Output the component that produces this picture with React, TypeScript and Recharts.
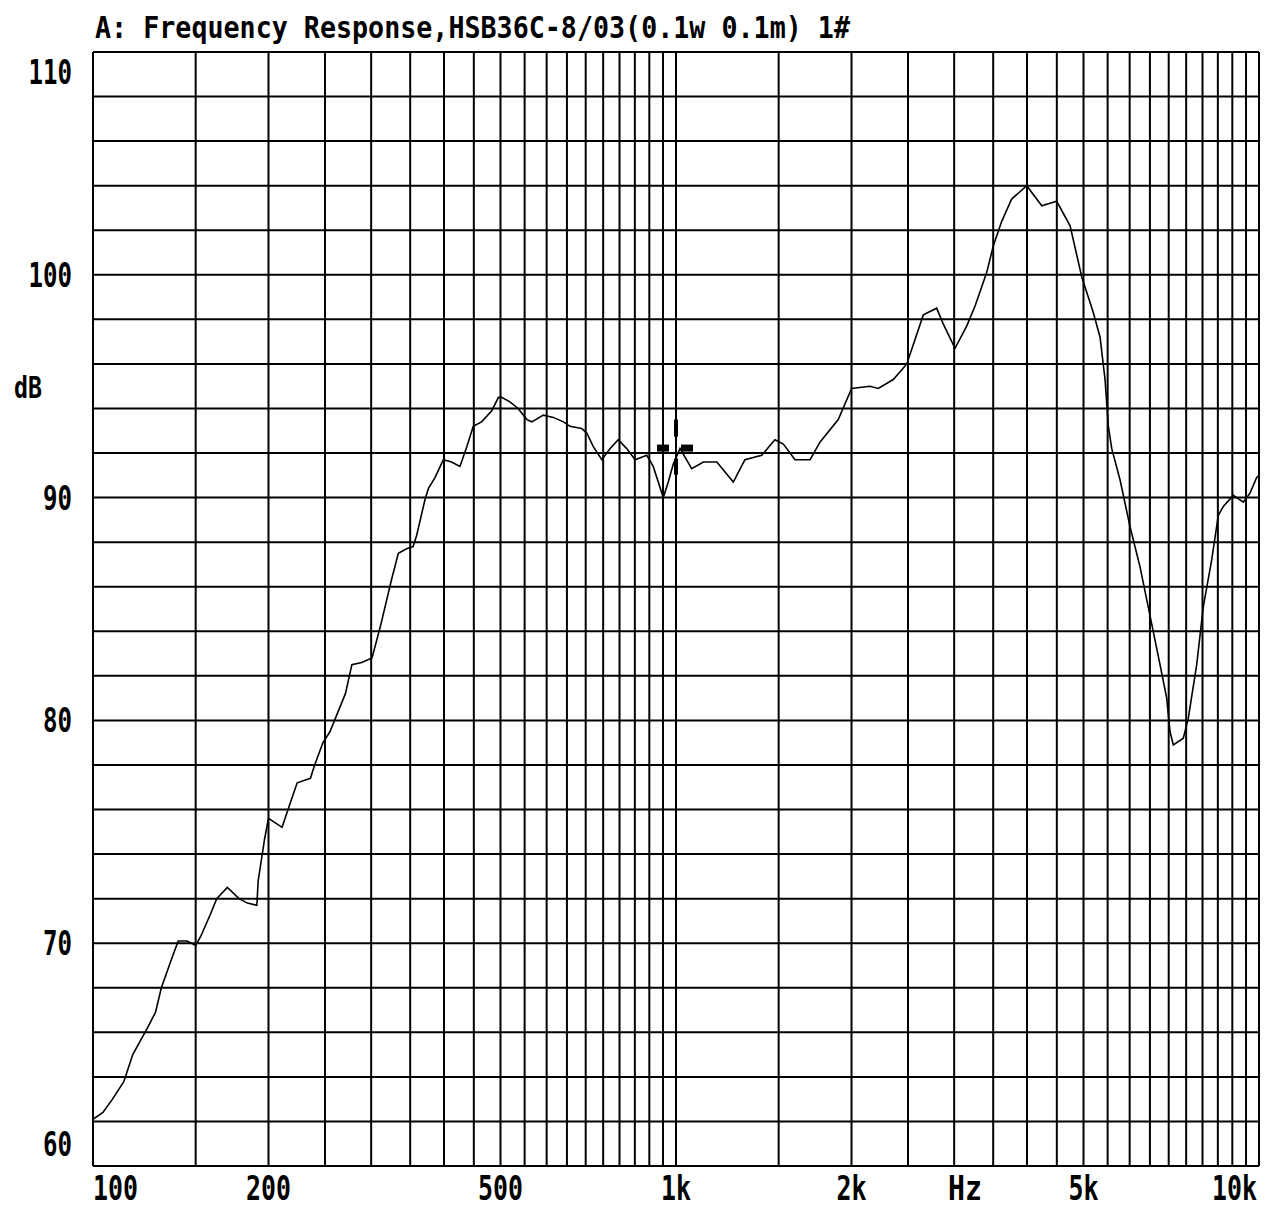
import React from 'react';
import { LineChart, Line, XAxis, YAxis, CartesianGrid, ReferenceDot } from 'recharts';

const freqHz = [
  100, 104, 108, 113, 117, 124, 128, 131, 136, 140, 145, 150, 153, 159, 163, 170, 178, 184, 191, 192,
  197, 200, 211, 218, 224, 236, 240, 248, 255, 271, 278, 289, 301, 311, 325, 334, 345, 354, 359, 371,
  376, 386, 399, 412, 426, 438, 449, 464, 483, 496, 502, 519, 536, 555, 566, 592, 616, 641, 658, 689,
  703, 721, 746, 771, 796, 823, 851, 891, 914, 951, 970, 989, 1016, 1064, 1114, 1175, 1254, 1313, 1403, 1478,
  1528, 1600, 1698, 1767, 1898, 2001, 2151, 2223, 2359, 2488, 2656, 2800, 2873, 3010, 3152, 3258, 3411, 3502, 3620, 3765,
  3996, 4240, 4498, 4742, 4966, 5199, 5338, 5444, 5516, 5590, 5776, 6008, 6249, 6502, 6764, 6945, 7037, 7129, 7416, 7564,
  7819, 8025, 8296, 8515, 8685, 9035, 9399, 9651, 9909, 10000,
];

const splDb = [
  62.1, 62.4, 63.0, 63.8, 65.0, 66.2, 66.9, 68.0, 69.2, 70.1, 70.1, 69.9, 70.3, 71.3, 72.0, 72.5, 72.0, 71.8, 71.7, 72.8,
  74.7, 75.6, 75.2, 76.3, 77.2, 77.4, 78.0, 79.0, 79.5, 81.2, 82.5, 82.6, 82.8, 84.2, 86.3, 87.5, 87.7, 87.8, 88.3, 89.9,
  90.4, 90.9, 91.7, 91.6, 91.4, 92.3, 93.2, 93.4, 93.9, 94.5, 94.5, 94.3, 94.0, 93.5, 93.4, 93.7, 93.6, 93.4, 93.2, 93.1,
  92.9, 92.3, 91.7, 92.2, 92.6, 92.2, 91.7, 91.9, 91.4, 90.0, 90.7, 91.5, 92.2, 91.3, 91.6, 91.6, 90.7, 91.7, 91.9, 92.6,
  92.4, 91.7, 91.7, 92.5, 93.5, 94.9, 95.0, 94.9, 95.3, 96.0, 98.2, 98.5, 97.8, 96.7, 97.7, 98.6, 100.1, 101.3, 102.4, 103.4,
  104.0, 103.1, 103.3, 102.2, 99.9, 98.3, 97.2, 95.3, 93.2, 92.2, 90.8, 88.7, 86.9, 84.7, 82.5, 81.0, 79.5, 78.9, 79.2, 80.1,
  82.5, 85.1, 87.2, 89.2, 89.6, 90.1, 89.8, 90.2, 90.9, 91.0,
];

const freqGridTicks = [
  100, 150, 200, 250, 300, 350, 400, 450, 500, 550, 600, 650, 700, 750, 800, 850, 900, 950, 1000,
  1500, 2000, 2500, 3000, 3500, 4000, 4500, 5000, 5500, 6000, 6500, 7000, 7500, 8000, 8500, 9000, 9500, 10000,
];
const dbGridTicks = [
  60, 62, 64, 66, 68, 70, 72, 74, 76, 78, 80, 82, 84, 86, 88, 90, 92, 94, 96, 98, 100, 102, 104, 106, 108, 110,
];
const freqLabelValues = [100, 200, 500, 1000, 2000, 5000, 10000];
const freqLabelTexts = ['100', '200', '500', '1k', '2k', '5k', '10k'];
const dbLabelValues = [60, 70, 80, 90, 100, 110];
const cursorFreq = [1000];
const cursorDb = [92.2];

const titleText = 'A: Frequency Response,HSB36C-8/03(0.1w 0.1m) 1#';
const yUnit = 'dB';
const xUnit = 'Hz';

const FONT = '"DejaVu Sans Mono", "Liberation Mono", monospace';

const data = freqHz.map((f, i) => ({ f, db: splDb[i] }));

function XTick(props: any) {
  const { x, y, payload } = props;
  const idx = freqLabelValues.indexOf(payload.value);
  if (idx < 0) return <g />;
  const txt = freqLabelTexts[idx];
  const last = idx === freqLabelValues.length - 1;
  const anchor = idx === 0 ? 'start' : last ? 'end' : 'middle';
  return (
    <text
      x={last ? x - 2 : x}
      y={y + 34}
      textAnchor={anchor}
      fontFamily={FONT}
      fontWeight="bold"
      fontSize={33}
      fill="#000"
      textLength={txt.length * 15}
      lengthAdjust="spacingAndGlyphs"
    >
      {txt}
    </text>
  );
}

function YTick(props: any) {
  const { x, y, payload } = props;
  const v = payload.value;
  if (dbLabelValues.indexOf(v) < 0) return <g />;
  const txt = String(v);
  const shift = v === 110 ? 20 : v === 60 ? -22 : 0;
  return (
    <text
      x={x - 21}
      y={y + 12 + shift}
      textAnchor="end"
      fontFamily={FONT}
      fontWeight="bold"
      fontSize={33}
      fill="#000"
      textLength={txt.length * 14.5}
      lengthAdjust="spacingAndGlyphs"
    >
      {txt}
    </text>
  );
}

function CursorShape(props: any) {
  const { cx, cy } = props;
  if (cx == null || cy == null) return <g />;
  return (
    <g fill="#000">
      <rect x={cx - 2} y={cy - 29} width={4} height={17} />
      <rect x={cx - 2} y={cy + 10} width={4} height={16} />
      <rect x={cx - 19} y={cy - 4} width={12} height={7} />
      <rect x={cx + 5} y={cy - 4} width={12} height={7} />
    </g>
  );
}

export default function App() {
  return (
    <div style={{ position: 'absolute', left: 0, top: 0, width: 1271, height: 1208, background: '#fff' }}>
      <LineChart
        width={1271}
        height={1208}
        data={data}
        margin={{ top: 52, right: 12, bottom: 0, left: 0 }}
      >
        <CartesianGrid stroke="#000" strokeWidth={2} />
        <XAxis
          dataKey="f"
          type="number"
          scale="log"
          domain={[100, 10000]}
          ticks={freqGridTicks}
          interval={0}
          allowDataOverflow
          axisLine={false}
          tickLine={false}
          tickSize={0}
          tickMargin={0}
          height={42}
          tick={<XTick />}
        />
        <YAxis
          type="number"
          domain={[60, 110]}
          ticks={dbGridTicks}
          interval={0}
          allowDataOverflow
          axisLine={false}
          tickLine={false}
          tickSize={0}
          tickMargin={0}
          width={93}
          tick={<YTick />}
        />
        <Line
          type="linear"
          dataKey="db"
          stroke="#000"
          strokeWidth={1.6}
          dot={false}
          isAnimationActive={false}
        />
        <ReferenceDot x={cursorFreq[0]} y={cursorDb[0]} r={0} shape={<CursorShape />} />
      </LineChart>
      <svg
        width={1271}
        height={1208}
        style={{ position: 'absolute', left: 0, top: 0, pointerEvents: 'none' }}
      >
        <text
          x={95}
          y={38}
          fontFamily={FONT}
          fontWeight="bold"
          fontSize={31}
          fill="#000"
          textLength={755}
          lengthAdjust="spacingAndGlyphs"
        >
          {titleText}
        </text>
        <text
          x={14}
          y={398}
          fontFamily={FONT}
          fontWeight="bold"
          fontSize={31}
          fill="#000"
          textLength={28}
          lengthAdjust="spacingAndGlyphs"
        >
          {yUnit}
        </text>
        <text
          x={948}
          y={1200}
          fontFamily={FONT}
          fontWeight="bold"
          fontSize={33}
          fill="#000"
          textLength={34}
          lengthAdjust="spacingAndGlyphs"
        >
          {xUnit}
        </text>
      </svg>
    </div>
  );
}
